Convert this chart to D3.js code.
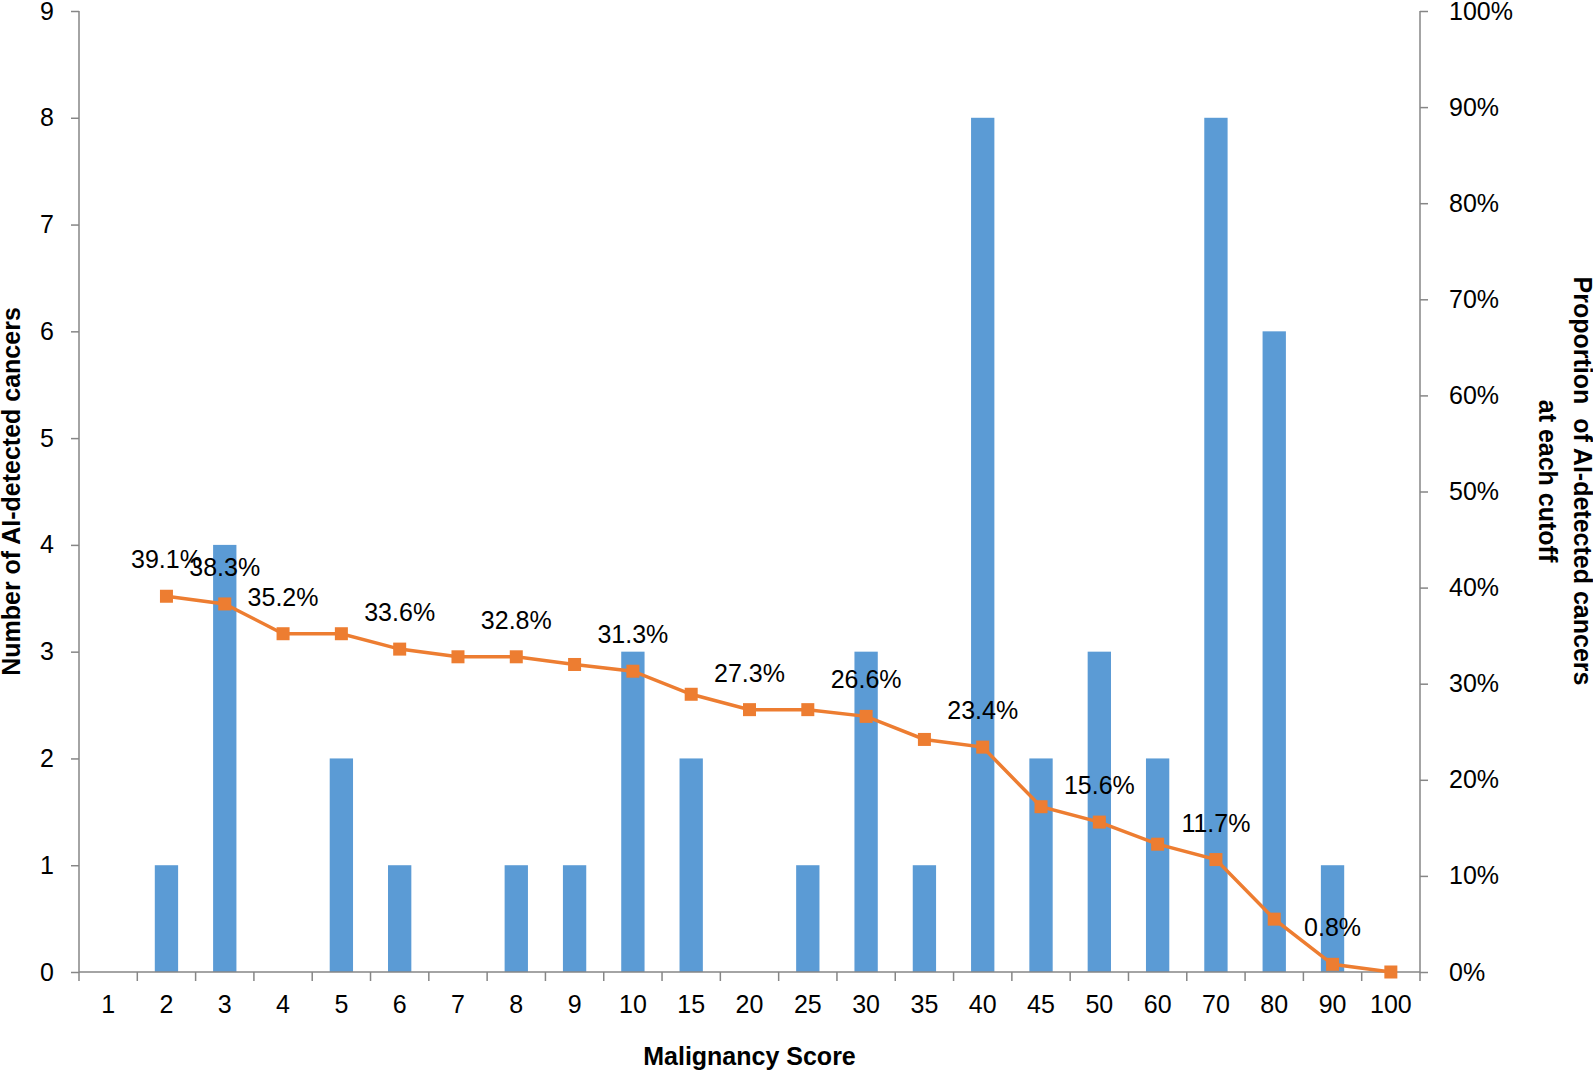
<!DOCTYPE html>
<html>
<head>
<meta charset="utf-8">
<script src="https://cdn.jsdelivr.net/npm/d3@7"></script>
<style>
  html, body { margin: 0; padding: 0; background: #fff; }
  svg { display: block; }
  text { font-family: "Liberation Sans", Arial, sans-serif; }
</style>
</head>
<body>
<svg id="chart" width="1593" height="1072"></svg>
<script>
// ---- data ----
const categories = ["1","2","3","4","5","6","7","8","9","10","15","20","25","30","35","40","45","50","60","70","80","90","100"];
const cancerCounts = [0,1,4,0,2,1,0,1,1,3,2,0,1,3,1,8,2,3,2,8,6,1,0];
const proportionPct = [null,39.1,38.3,35.2,35.2,33.6,32.8,32.8,32.0,31.3,28.9,27.3,27.3,26.6,24.2,23.4,17.2,15.6,13.3,11.7,5.5,0.8,0.0];
const labeledCutoffs = ["2","3","4","6","8","10","20","30","40","50","70","90"];
const leftTicks = [0,1,2,3,4,5,6,7,8,9];
const rightTicks = [0,10,20,30,40,50,60,70,80,90,100];
const xTitle = "Malignancy Score";
const yLeftTitle = "Number of AI-detected cancers";
const yRightTitle = ["Proportion  of AI-detected cancers", "at each cutoff"];

// ---- layout ----
const L = 79, R = 1420, T = 11, B = 972;
const svg = d3.select("#chart");
svg.append("rect").attr("width",1593).attr("height",1072).attr("fill","#fff");

const x = d3.scaleBand().domain(categories).range([L, R]).padding(0);
const yL = d3.scaleLinear().domain([0, 9]).range([B, T]);
const yR = d3.scaleLinear().domain([0, 100]).range([B, T]);

const axisColor = "#868686";
const fontSize = 25;

// bars
const barW = x.bandwidth() * 0.4;
svg.append("g").selectAll("rect")
  .data(categories.map((c, i) => ({c, v: cancerCounts[i]})))
  .join("rect")
  .attr("x", d => x(d.c) + x.bandwidth()/2 - barW/2)
  .attr("y", d => yL(d.v))
  .attr("width", barW)
  .attr("height", d => B - yL(d.v))
  .attr("fill", "#5B9BD5");

// left axis
const gL = svg.append("g").attr("transform", `translate(${L},0)`)
  .call(d3.axisLeft(yL).tickValues(leftTicks).tickSize(8).tickPadding(17).tickFormat(d3.format("d")));
// right axis
const gR = svg.append("g").attr("transform", `translate(${R},0)`)
  .call(d3.axisRight(yR).tickValues(rightTicks).tickSize(8).tickPadding(21).tickFormat(d => d + "%"));
// bottom axis
const gB = svg.append("g").attr("transform", `translate(0,${B})`)
  .call(d3.axisBottom(x).tickSize(0).tickPadding(23));
// category boundary ticks
const bounds = categories.map(c => x(c)).concat([R]);
gB.selectAll("line.bound").data(bounds).join("line").attr("class","bound")
  .attr("x1", d => d).attr("x2", d => d).attr("y1", 0).attr("y2", 9)
  .attr("stroke", axisColor).attr("stroke-width", 1.5);

[gL, gR, gB].forEach(g => {
  g.select(".domain").attr("stroke", axisColor).attr("stroke-width", 1.5);
  g.selectAll(".tick line").attr("stroke", axisColor).attr("stroke-width", 1.5);
  g.selectAll(".tick text").attr("fill", "#000").style("font-size", fontSize + "px")
    .style("font-family", '"Liberation Sans", Arial, sans-serif');
});
// bottom domain without end ticks
gB.select(".domain").attr("d", `M${L},0H${R}`);
gL.select(".domain").attr("d", `M0,${B}V${T}`);
gR.select(".domain").attr("d", `M0,${B}V${T}`);
gB.selectAll(".tick text").attr("dy", "0.71em");

// line
const pts = categories.map((c, i) => ({c, v: proportionPct[i]})).filter(d => d.v !== null);
const line = d3.line().x(d => x(d.c) + x.bandwidth()/2).y(d => yR(d.v));
svg.append("path").datum(pts).attr("d", line)
  .attr("fill", "none").attr("stroke", "#ED7D31").attr("stroke-width", 3.5);
const ms = 13;
svg.append("g").selectAll("rect").data(pts).join("rect")
  .attr("x", d => x(d.c) + x.bandwidth()/2 - ms/2)
  .attr("y", d => yR(d.v) - ms/2)
  .attr("width", ms).attr("height", ms)
  .attr("fill", "#ED7D31");

// data labels
svg.append("g").selectAll("text").data(pts.filter(d => labeledCutoffs.includes(d.c))).join("text")
  .attr("x", d => x(d.c) + x.bandwidth()/2)
  .attr("y", d => yR(d.v) - 28)
  .attr("text-anchor", "middle")
  .style("font-size", fontSize + "px")
  .attr("fill", "#000")
  .text(d => d.v.toFixed(1) + "%");

// titles
svg.append("text").attr("x", (L + R)/2).attr("y", 1065)
  .attr("text-anchor", "middle").style("font-size", "25px").style("font-weight", "bold")
  .text(xTitle);
svg.append("text").attr("transform", `translate(20,${(T + B)/2}) rotate(-90)`)
  .attr("text-anchor", "middle").style("font-size", "25px").style("font-weight", "bold")
  .text(yLeftTitle);
const rt = svg.append("text").attr("transform", `translate(1574,481) rotate(90)`)
  .attr("text-anchor", "middle").style("font-size", "25px").style("font-weight", "bold")
  .style("white-space", "pre");
rt.append("tspan").attr("x", 0).attr("dy", 0).text(yRightTitle[0]);
rt.append("tspan").attr("x", 0).attr("dy", 35).text(yRightTitle[1]);
</script>
</body>
</html>
